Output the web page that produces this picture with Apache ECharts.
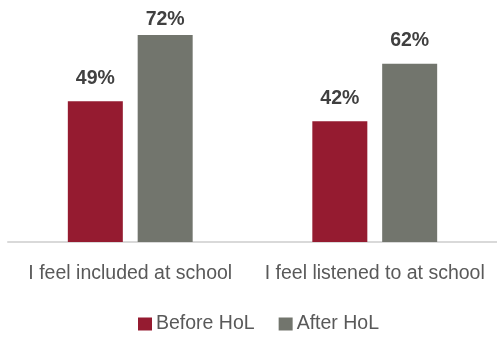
<!DOCTYPE html>
<html>
<head>
<meta charset="utf-8">
<script src="https://cdn.jsdelivr.net/npm/echarts@6/dist/echarts.min.js"></script>
<style>
  html, body { margin: 0; padding: 0; background: #fff; }
  #chart { width: 497px; height: 337px; }
</style>
</head>
<body>
<div id="chart"></div>
<script>
// Survey statements and the share agreeing before / after the programme
const categories = ['I feel included at school', 'I feel listened to at school'];
const beforeHoL = [49, 42];
const afterHoL = [72, 62];
const seriesNames = ['Before HoL', 'After HoL'];

const FONT = '"Liberation Sans", Arial, sans-serif';

const chart = echarts.init(document.getElementById('chart'), null, { renderer: 'canvas' });

const valueLabel = {
  show: true,
  position: 'top',
  distance: 13,
  formatter: p => p.value + '%',
  color: '#404040',
  fontFamily: FONT,
  fontWeight: 'bold',
  fontSize: 19.5
};

// keep value labels inside the canvas: push any label that would
// rise above the top edge back down
const LABEL_TOP_LIMIT = 10;

chart.setOption({
  animation: false,
  grid: { left: 8, right: 0, top: 12, bottom: 95 },
  legend: {
    data: seriesNames,
    bottom: 3,
    left: 138,
    padding: 0,
    itemWidth: 14,
    itemHeight: 13,
    itemGap: 24,
    icon: 'rect',
    textStyle: { color: '#595959', fontFamily: FONT, fontSize: 19.5, padding: [0, 0, 0, -1] }
  },
  xAxis: {
    type: 'category',
    data: categories,
    axisTick: { show: false },
    axisLine: { lineStyle: { color: '#d9d9d9', width: 2 } },
    axisLabel: { color: '#595959', fontFamily: FONT, fontSize: 19.5, margin: 22, interval: 0 }
  },
  yAxis: {
    type: 'value',
    min: 0,
    max: 80,
    show: false,
    splitLine: { show: false }
  },
  labelLayout: function (params) {
    const top = params.labelRect.y;
    return { dy: top < LABEL_TOP_LIMIT ? LABEL_TOP_LIMIT - top : 0 };
  },
  series: [
    {
      name: seriesNames[0],
      type: 'bar',
      data: beforeHoL,
      barWidth: 55,
      barGap: '27%',
      itemStyle: { color: '#951B30' },
      label: valueLabel
    },
    {
      name: seriesNames[1],
      type: 'bar',
      data: afterHoL,
      barWidth: 55,
      barGap: '27%',
      itemStyle: { color: '#72756D' },
      label: valueLabel
    }
  ]
});
</script>
</body>
</html>
